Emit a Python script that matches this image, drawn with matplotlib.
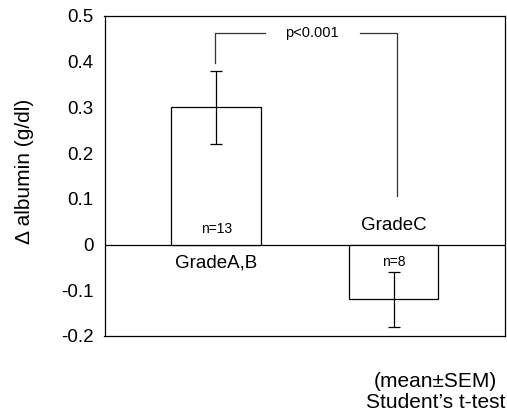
import matplotlib
matplotlib.use("Agg")
import matplotlib.pyplot as plt

categories = ["GradeA,B", "GradeC"]
means = [0.30, -0.12]
sems = [0.08, 0.06]
counts = ["n=13", "n=8"]
yticks = [-0.2, -0.1, 0, 0.1, 0.2, 0.3, 0.4, 0.5]
ytick_labels = ["-0.2", "-0.1", "0", "0.1", "0.2", "0.3", "0.4", "0.5"]
p_text = "p<0.001"

plt.rcParams['font.family'] = ['Liberation Sans', 'DejaVu Sans']

fig = plt.figure(figsize=(5.07, 4.13), dpi=100)
ax = fig.add_axes([104.5/507, 1-336/413, (505-104.5)/507, (336-16)/413])

x = [1, 2]
ax.bar(x, means, width=0.504, color='white', edgecolor='black', linewidth=0.9, zorder=2)
ax.errorbar(x, means, yerr=sems, fmt='none', ecolor='black', elinewidth=0.9,
            capsize=4.5, capthick=0.9, zorder=3)
ax.axhline(0, color='black', linewidth=0.9, zorder=1)

ax.set_xlim(0.371, 2.627)
ax.set_ylim(-0.2, 0.5)
ax.set_yticks(yticks)
ax.set_yticklabels(ytick_labels, fontsize=13.5)
ax.tick_params(axis='y', length=0, pad=8)
ax.set_xticks([])
for s in ax.spines.values():
    s.set_linewidth(0.9)

fig.text(25/507, 1-171/413, "Δ albumin (g/dl)", rotation=90, ha='center', va='center', fontsize=15)

# count labels
ax.text(1, 0.034, counts[0], ha='center', va='center', fontsize=10)
ax.text(2, -0.038, counts[1], ha='center', va='center', fontsize=10)
# category labels
ax.text(1, -0.041, categories[0], ha='center', va='center', fontsize=13.5)
ax.text(2, 0.042, categories[1], ha='center', va='center', fontsize=13.5)

# significance bracket
lc = '#333333'
ax.plot([0.993, 0.993, 1.275], [0.397, 0.463, 0.463], color=lc, linewidth=0.9)
ax.plot([1.81, 2.02, 2.02], [0.463, 0.463, 0.106], color=lc, linewidth=0.9)
ax.text(1.54, 0.463, p_text, ha='center', va='center', fontsize=10.5)

fig.text(435/507, 1-381.7/413, "(mean±SEM)", ha='center', va='center', fontsize=15)
fig.text(436/507, 1-403/413, "Student’s t-test", ha='center', va='center', fontsize=15)

fig.savefig("out.png", dpi=100)
